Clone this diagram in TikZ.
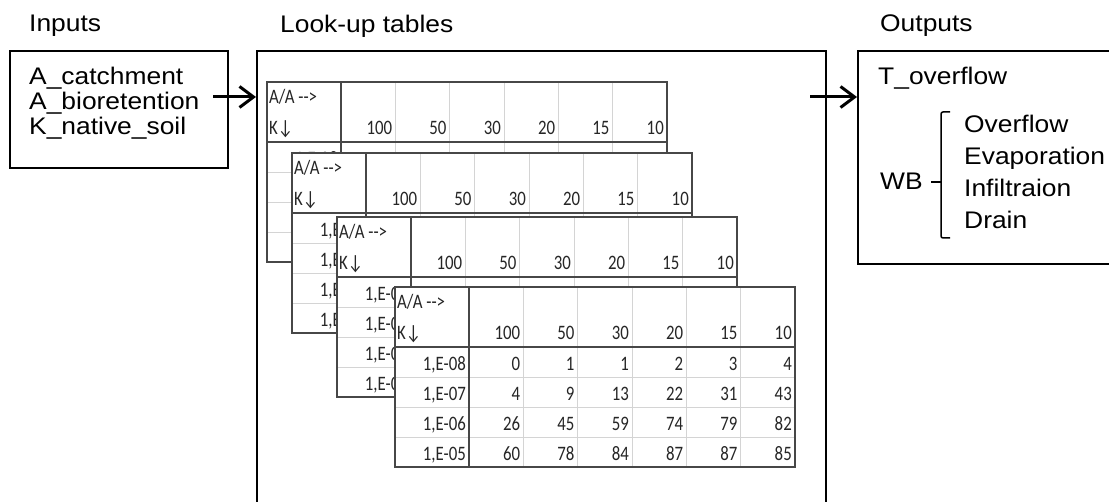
\documentclass[tikz,border=0pt]{standalone}
\usepackage{fontspec}
\setmainfont{Liberation Sans}
\newfontfamily\labelfont[FakeStretch=1.1]{Liberation Sans}
\newfontfamily\cellfont[FakeStretch=0.82]{Carlito}
\usepackage{tikz}
\usetikzlibrary{arrows.meta,positioning}

\colorlet{gridline}{black!17}
\colorlet{frameline}{black!72}

\tikzset{
  lbl/.style={font=\labelfont\fontsize{24}{28}\selectfont, inner sep=0pt},
  celltext/.style={font=\cellfont\fontsize{20.5}{24}\selectfont, inner sep=0pt, text=black!85},
  iobox/.style={draw, line width=2pt, anchor=north west, inner sep=0pt},
  flow/.style={-{Straight Barb[length=14pt,width=21pt]}, line width=3pt},
  cellline/.style={draw=gridline, line width=0.9pt},
  tableline/.style={draw=frameline, line width=1.5pt}
}

% one look-up table, top left corner at (#2,#3); #4=1 fills in the values
\newcommand{\lutable}[4]{%
  \begin{scope}[shift={(#2,#3)}]
    \node[fill=white, minimum width=400, minimum height=180, anchor=north west, inner sep=0pt] (#1) at (0,0) {};
    \foreach \cn in {1,...,5}
      \draw[cellline] (74+\cn*54.33,0) -- (74+\cn*54.33,180);
    \foreach \rn in {1,2,3}
      \draw[cellline] (0,60+\rn*30) -- (400,60+\rn*30);
    \draw[tableline] (74,0) -- (74,180);
    \draw[tableline] (0,60) -- (400,60);
    \draw[tableline] (0,0) rectangle (400,180);
    % header
    \node[celltext, anchor=base west] (#1-aa) at (2,22) {A/A -{}->};
    \node[celltext, anchor=base west] (#1-k) at (2,53) {K↓};
    \foreach \a [count=\cn] in {100,50,30,20,15,10}
      \node[celltext, anchor=base east] (#1-h\cn) at (71+\cn*54.33,53) {\a};
    % rows
    \foreach \e/\vals [count=\rn] in {8/{0,1,1,2,3,4},7/{4,9,13,22,31,43},6/{26,45,59,74,79,82},5/{60,78,84,87,87,85}} {
      \node[celltext, anchor=base east] (#1-k\rn) at (71,54+\rn*30) {1,E-0\e};
      \ifnum#4=1
        \foreach \v [count=\cn] in \vals
          \node[celltext, anchor=base east] (#1-v\rn\cn) at (71+\cn*54.33,54+\rn*30) {\v};
      \fi
    }
  \end{scope}}

\begin{document}
\begin{tikzpicture}[x=1pt, y=-1pt]
  \clip (0,0) rectangle (1109,502);

  % inputs
  \node[lbl, anchor=base west] (inlabel) at (29,32) {Inputs};
  \node[iobox, minimum width=218, minimum height=117] (inputs) at (9,50) {};
  \node[lbl, anchor=base west] (acatch) at (29,85) {A\_catchment};
  \node[lbl, anchor=base west] (abio) at (29,110) {A\_bioretention};
  \node[lbl, anchor=base west] (ksoil) at (29,135) {K\_native\_soil};

  % look-up tables
  \node[lbl, anchor=base west] (lutlabel) at (280,33) {Look-up tables};
  \node[iobox, minimum width=569, minimum height=500] (lookup) at (256,50) {};
  \lutable{tab1}{267}{82}{0}
  \lutable{tab2}{292}{153}{0}
  \lutable{tab3}{337}{217}{0}
  \lutable{tab4}{395}{287}{1}

  % outputs
  \node[lbl, anchor=base west] (outlabel) at (880,32) {Outputs};
  \node[iobox, minimum width=300, minimum height=213] (outputs) at (857,50) {};
  \node[lbl, anchor=base west] (tover) at (878,85) {T\_overflow};
  \node[lbl, anchor=base west] (wb) at (880,190) {WB};
  \node[lbl, anchor=base west] (overflow) at (964,133) {Overflow};
  \node[lbl, anchor=base west] (evap) at (964,165) {Evaporation};
  \node[lbl, anchor=base west] (infil) at (964,197) {Infiltraion};
  \node[lbl, anchor=base west] (drain) at (964,229) {Drain};
  \draw[line width=1.5pt, rounded corners=2pt] (950,112) -- (941,112) -- (941,238) -- (950,238);
  \draw[line width=1.5pt] (931,182) -- (941,182);

  % arrows
  \coordinate (in-tail) at (213,97);
  \coordinate (out-tail) at (810,97);
  \draw[flow] (in-tail) -- (in-tail -| lookup.west);
  \draw[flow] (out-tail) -- (out-tail -| outputs.west);
\end{tikzpicture}
\end{document}
